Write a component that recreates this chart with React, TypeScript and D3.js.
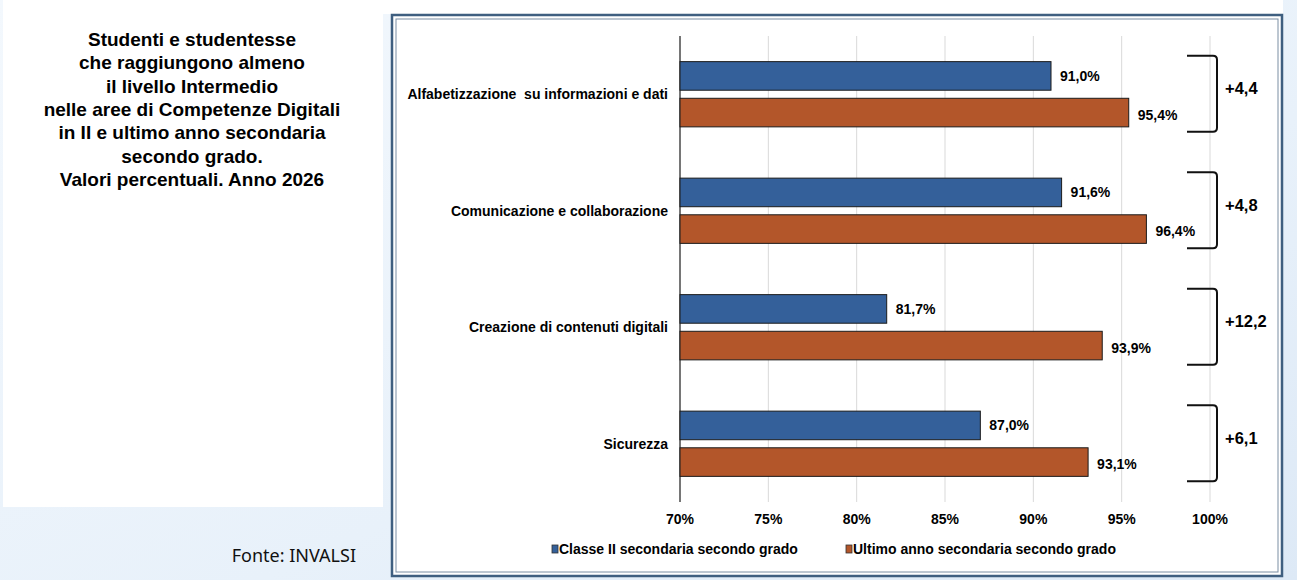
import * as d3 from 'd3';

const categories = [
  'Alfabetizzazione  su informazioni e dati',
  'Comunicazione e collaborazione',
  'Creazione di contenuti digitali',
  'Sicurezza',
];
const seriesNames = ['Classe II secondaria secondo grado', 'Ultimo anno secondaria secondo grado'];
const classeII = [91.0, 91.6, 81.7, 87.0];
const ultimoAnno = [95.4, 96.4, 93.9, 93.1];
const xTicks = [70, 75, 80, 85, 90, 95, 100];
const titleLines = [
  'Studenti e studentesse',
  'che raggiungono almeno',
  'il livello Intermedio',
  'nelle aree di Competenze Digitali',
  'in II e ultimo anno secondaria',
  'secondo grado.',
  'Valori percentuali. Anno 2026',
];

const colors = ['#34609a', '#b3562a'];
const font = '"Liberation Sans", Arial, sans-serif';
const fmt = (v: number) => v.toFixed(1).replace('.', ',');

export default function App() {
  const width = 1297;
  const height = 580;

  const x = d3.scaleLinear().domain([70, 100]).range([680, 1210]);
  const y = d3.scaleBand<string>().domain(categories).range([36, 502]).paddingInner(0.44).paddingOuter(0.22);
  const inner = d3.scaleBand<number>().domain([0, 1]).range([0, y.bandwidth()]).paddingInner(0.22);
  const series = [classeII, ultimoAnno];

  return (
    <svg width={width} height={height} style={{ position: 'absolute', left: 0, top: 0 }} fontFamily={font}>
      <defs>
        <linearGradient id="bg" x1="0" y1="0" x2="1" y2="1">
          <stop offset="0" stopColor="#f3f8fd" />
          <stop offset="0.6" stopColor="#e8f1fa" />
          <stop offset="1" stopColor="#dde9f6" />
        </linearGradient>
      </defs>
      <rect width={width} height={height} fill="url(#bg)" />
      <rect x={3} y={0} width={380} height={507} fill="#fff" />
      <rect x={383} y={0} width={900} height={14} fill="#fff" />

      {/* title */}
      <text x={192} y={46} textAnchor="middle" fontSize={19} fontWeight="bold" fill="#000">
        {titleLines.map((l, i) => (
          <tspan key={i} x={192} dy={i === 0 ? 0 : 23.3}>{l}</tspan>
        ))}
      </text>
      <text x={356} y={562} textAnchor="end" fontSize={18} fontFamily='"Noto Sans", sans-serif' fill="#111">Fonte: INVALSI</text>

      {/* chart box */}
      <rect x={392} y={15} width={890} height={561} fill="#fff" stroke="#3f5f80" strokeWidth={2.5} />
      <rect x={396} y={19} width={882} height={553} fill="none" stroke="#7a8ea3" strokeWidth={1} />

      {/* grid */}
      {xTicks.map((t) => (
        <line key={t} x1={x(t)} x2={x(t)} y1={36} y2={502} stroke="#d9d9d9" strokeWidth={1} />
      ))}
      <line x1={x(70)} x2={x(70)} y1={36} y2={502} stroke="#000" strokeWidth={1} />

      {xTicks.map((t) => (
        <text key={t} x={x(t)} y={524} textAnchor="middle" fontSize={14} fontWeight="bold">{t}%</text>
      ))}

      {categories.map((c, ci) => {
        const y0 = y(c)!;
        const top = y0 + inner(0)! - 6;
        const bot = y0 + inner(1)! + inner.bandwidth() + 5;
        const bx = x(100) + 7;
        const delta = ultimoAnno[ci] - classeII[ci];
        return (
          <g key={c}>
            <text x={668} y={y0 + y.bandwidth() / 2 + 5} textAnchor="end" fontSize={14} fontWeight="bold" style={{ whiteSpace: 'pre' }}>{c}</text>
            {series.map((s, si) => {
              const by = y0 + inner(si)!;
              return (
                <g key={si}>
                  <rect x={x(70)} y={by} width={x(s[ci]) - x(70)} height={inner.bandwidth()} fill={colors[si]} stroke="#1b1b1b" strokeWidth={1} />
                  <text x={x(s[ci]) + 9} y={by + inner.bandwidth() / 2 + (si === 0 ? 5 : 7)} fontSize={14} fontWeight="bold">{fmt(s[ci])}%</text>
                </g>
              );
            })}
            <path
              d={`M${bx - 30},${top} L${bx - 4},${top} Q${bx},${top} ${bx},${top + 4} L${bx},${bot - 4} Q${bx},${bot} ${bx - 4},${bot} L${bx - 30},${bot}`}
              fill="none" stroke="#111" strokeWidth={2}
            />
            <text x={bx + 8} y={y0 + y.bandwidth() / 2} fontSize={16.5} fontWeight="bold">+{fmt(delta)}</text>
          </g>
        );
      })}

      {/* legend */}
      {seriesNames.map((n, i) => {
        const lx = i === 0 ? 552 : 846;
        return (
          <g key={n}>
            <rect x={lx} y={545} width={6} height={8} fill={colors[i]} stroke="#333" strokeWidth={0.8} />
            <text x={lx + 7} y={554} fontSize={14} fontWeight="bold">{n}</text>
          </g>
        );
      })}
    </svg>
  );
}
